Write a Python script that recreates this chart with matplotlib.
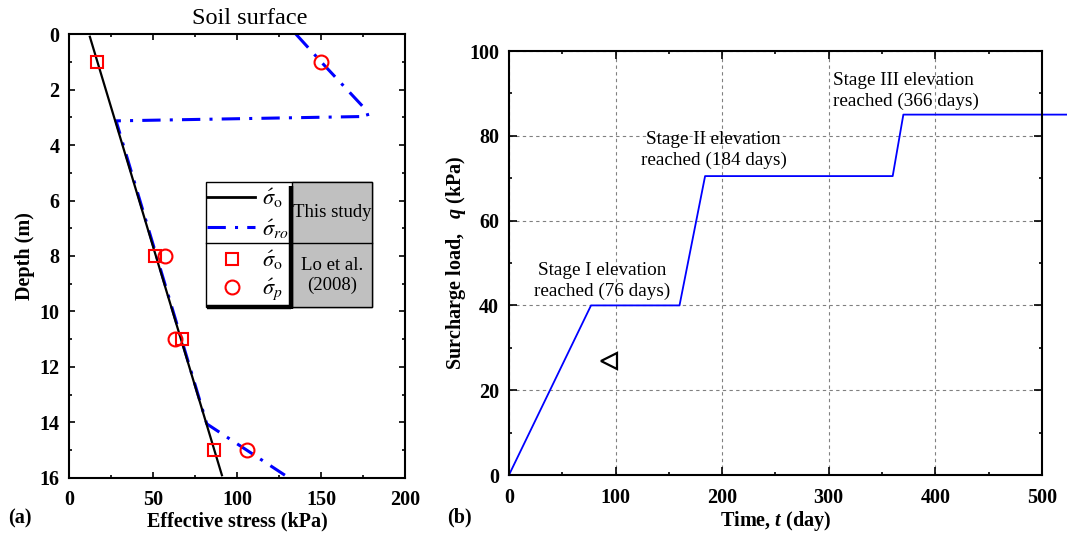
import numpy as np
import matplotlib
matplotlib.use("Agg")
import matplotlib.pyplot as plt
from matplotlib.patches import Rectangle
from matplotlib.lines import Line2D
from matplotlib.ticker import MultipleLocator

plt.rcParams['font.family'] = ['Liberation Serif', 'DejaVu Serif']
plt.rcParams['mathtext.fontset'] = 'custom'
plt.rcParams['mathtext.rm'] = 'Liberation Serif:bold'
plt.rcParams['mathtext.it'] = 'Liberation Serif:italic:bold'
plt.rcParams['mathtext.bf'] = 'Liberation Serif:bold'

# ===== (a) stress profile =====
sig_o_depth = [0.1, 15.9]
sig_o_stress = [12.4, 91.0]

sig_ro_depth = [0.0, 1.0, 2.75, 2.97, 3.13, 14.05, 15.9]
sig_ro_stress = [135.0, 150.0, 177.0, 178.0, 28.0, 82.0, 128.5]

lo_depth = [1, 8, 11, 15]
lo_sig_o = [16.5, 51.0, 67.0, 86.0]
lo_sig_p = [150.0, 57.0, 63.0, 106.0]

# ===== (b) surcharge history =====
t_day = [0, 77, 160, 184, 360, 370, 523]
q_kpa = [0, 40, 40, 70.5, 70.5, 85, 85]
tri_t = [94]
tri_q = [27]

stage_labels = ["Stage I elevation\nreached (76 days)",
                "Stage II elevation\nreached (184 days)",
                "Stage III elevation\nreached (366 days)"]
stage_pos = [(87, 45.8, 'center'), (192, 76.6, 'center'), (304, 90.6, 'left')]

fig = plt.figure(figsize=(10.67, 5.33), dpi=100)
ax1 = fig.add_axes([0.0647, 0.1032, 0.3149, 0.833])
ax2 = fig.add_axes([0.4770, 0.1088, 0.4995, 0.7955])

# --- left panel ---
ax1.plot(sig_ro_stress, sig_ro_depth, color='blue', lw=2.2,
         dashes=(6, 3, 1, 3), zorder=2)
ax1.plot(sig_o_stress, sig_o_depth, color='black', lw=1.6, zorder=3)
ax1.plot(lo_sig_o, lo_depth, ls='none', marker='s', ms=9, mfc='none',
         mec='red', mew=1.5, zorder=4)
ax1.plot(lo_sig_p, lo_depth, ls='none', marker='o', ms=10, mfc='none',
         mec='red', mew=1.5, zorder=4)

ax1.set_xlim(0, 200)
ax1.set_ylim(16, 0)
ax1.xaxis.set_major_locator(MultipleLocator(50))
ax1.xaxis.set_minor_locator(MultipleLocator(25))
ax1.yaxis.set_major_locator(MultipleLocator(2))
ax1.yaxis.set_minor_locator(MultipleLocator(1))
ax1.set_xlabel("Effective stress (kPa)", fontsize=14.5, fontweight='bold', labelpad=1)
ax1.set_ylabel("Depth (m)", fontsize=14.5, fontweight='bold', labelpad=3)
ax1.text(0.539, 1.036, "Soil surface", transform=ax1.transAxes,
         ha='center', va='center', fontsize=17.5)

# table-style legend
tr = ax1.transAxes
z = 10
ax1.add_patch(Rectangle((0.407, 0.3845), 0.494, 0.2825, transform=tr,
                        facecolor='white', edgecolor='black', lw=1.0, zorder=z))
ax1.add_patch(Rectangle((0.665, 0.3845), 0.236, 0.2825, transform=tr,
                        facecolor='#c0c0c0', edgecolor='black', lw=1.0, zorder=z))
ax1.add_line(Line2D([0.407, 0.901], [0.5286, 0.5286], transform=tr,
                    color='black', lw=1.0, zorder=z + 1))
ax1.add_line(Line2D([0.661, 0.661], [0.658, 0.380], transform=tr,
                    color='black', lw=3.2, zorder=z + 2, solid_capstyle='butt'))
ax1.add_line(Line2D([0.41, 0.661], [0.386, 0.386], transform=tr,
                    color='black', lw=3.2, zorder=z + 2, solid_capstyle='butt'))
ax1.add_line(Line2D([0.411, 0.554], [0.634, 0.634], transform=tr,
                    color='black', lw=2.0, zorder=z + 1))
ax1.add_line(Line2D([0.411, 0.554], [0.565, 0.565], transform=tr,
                    color='blue', lw=2.2, dashes=(6, 3, 1, 3), zorder=z + 1))
ax1.add_line(Line2D([0.484], [0.494], transform=tr, ls='none', marker='s',
                    ms=9, mfc='none', mec='red', mew=1.5, zorder=z + 1))
ax1.add_line(Line2D([0.484], [0.4295], transform=tr, ls='none', marker='o',
                    ms=10, mfc='none', mec='red', mew=1.5, zorder=z + 1))
leg_labels = [r"$\acute{\sigma}_{\mathrm{o}}$", r"$\acute{\sigma}_{ro}$",
              r"$\acute{\sigma}_{\mathrm{o}}$", r"$\acute{\sigma}_{p}$"]
leg_y = [0.630, 0.560, 0.490, 0.425]
for lab, yy in zip(leg_labels, leg_y):
    ax1.text(0.5735, yy, lab, transform=tr, ha='left', va='center',
             fontsize=16, math_fontfamily='stix', zorder=z + 3)
ax1.text(0.783, 0.599, "This study", transform=tr, ha='center', va='center',
         fontsize=13.5, zorder=z + 3)
ax1.text(0.783, 0.457, "Lo et al.\n(2008)", transform=tr, ha='center',
         va='center', fontsize=13.5, linespacing=1.2, zorder=z + 3)

# --- right panel ---
ax2.plot(t_day, q_kpa, color='blue', lw=1.3, clip_on=False, zorder=3)
ax2.plot(tri_t, tri_q, ls='none', marker='<', ms=11, mfc='none',
         mec='black', mew=1.6, zorder=3)
for lab, (xx, yy, ha) in zip(stage_labels, stage_pos):
    ax2.text(xx, yy, lab, ha=ha, va='center', fontsize=13.8, linespacing=1.3)

ax2.set_xlim(0, 500)
ax2.set_ylim(0, 100)
ax2.xaxis.set_major_locator(MultipleLocator(100))
ax2.xaxis.set_minor_locator(MultipleLocator(50))
ax2.yaxis.set_major_locator(MultipleLocator(20))
ax2.yaxis.set_minor_locator(MultipleLocator(10))
ax2.grid(True, which='major', ls=(0, (3, 3)), color='gray', lw=0.8)
ax2.set_axisbelow(True)
ax2.set_xlabel(r"Time, $t$ (day)", fontsize=14.5, fontweight='bold', labelpad=1)
ax2.set_ylabel(r"Surcharge load,   $q$ (kPa)", fontsize=14.5, fontweight='bold',
               labelpad=1)

for ax, maj, mnr in [(ax1, 4, 2.5), (ax2, 6, 2.5)]:
    for s in ax.spines.values():
        s.set_linewidth(1.5)
        s.set_zorder(20)
    ax.tick_params(which='both', direction='in', top=True, right=True,
                   width=1.2, labelsize=14.5)
    ax.tick_params(axis='x', pad=9)
    ax.tick_params(axis='y', pad=7)
    ax.tick_params(which='major', length=maj)
    ax.tick_params(which='minor', length=mnr)
    for lab in ax.get_xticklabels() + ax.get_yticklabels():
        lab.set_fontweight('bold')

fig.text(0.019, 0.027, "(a)", fontsize=14.5, fontweight='bold', ha='center', va='center')
fig.text(0.431, 0.030, "(b)", fontsize=14.5, fontweight='bold', ha='center', va='center')

fig.savefig("out.png", dpi=100)
